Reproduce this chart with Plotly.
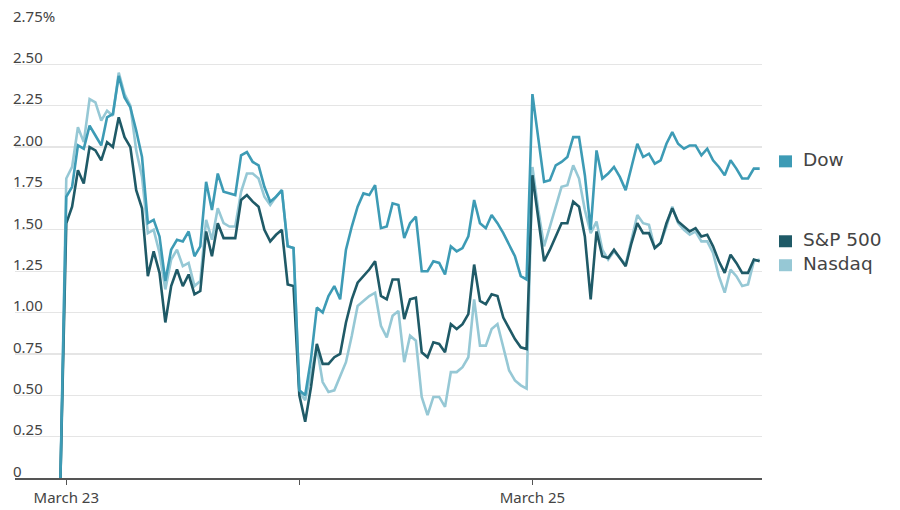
import plotly.graph_objects as go

# ---- data: intraday readings (percent), one list per day ----
day_labels = ["March 23", "March 24", "March 25"]
tick_labels = ["March 23", "", "March 25"]
bars_per_day = 40

# March 23 includes the opening 0 reading at bar -1
dow_d1 = [0, 1.70, 1.76, 2.01, 1.99, 2.13, 2.07, 2.01, 2.18, 2.20, 2.43, 2.30, 2.24, 2.10, 1.94,
          1.54, 1.56, 1.46, 1.19, 1.38, 1.44, 1.43, 1.49, 1.34, 1.40, 1.79, 1.62, 1.84, 1.73,
          1.72, 1.71, 1.95, 1.97, 1.91, 1.89, 1.76, 1.67, 1.70, 1.74, 1.40, 1.39]
dow_d2 = [0.53, 0.50, 0.72, 1.03, 1.00, 1.10, 1.16, 1.08, 1.38, 1.52, 1.64, 1.72, 1.71, 1.77,
          1.51, 1.52, 1.66, 1.65, 1.45, 1.54, 1.58, 1.25, 1.25, 1.31, 1.30, 1.23, 1.40, 1.37,
          1.39, 1.46, 1.68, 1.54, 1.51, 1.59, 1.54, 1.48, 1.41, 1.34, 1.22, 1.20]
dow_d3 = [2.32, 2.05, 1.79, 1.80, 1.89, 1.91, 1.94, 2.06, 2.06, 1.83, 1.50, 1.98, 1.81, 1.84,
          1.88, 1.82, 1.74, 1.88, 2.02, 1.94, 1.96, 1.90, 1.92, 2.02, 2.09, 2.02, 1.99, 2.01,
          2.01, 1.95, 1.99, 1.92, 1.88, 1.83, 1.92, 1.87, 1.81, 1.81, 1.87, 1.87]

sp_d1 = [0, 1.54, 1.64, 1.86, 1.78, 2.00, 1.98, 1.92, 2.03, 2.00, 2.18, 2.06, 2.00, 1.74, 1.63,
         1.22, 1.37, 1.24, 0.94, 1.16, 1.26, 1.16, 1.23, 1.11, 1.13, 1.49, 1.34, 1.54, 1.45,
         1.45, 1.45, 1.68, 1.71, 1.67, 1.64, 1.50, 1.43, 1.47, 1.50, 1.17, 1.16]
sp_d2 = [0.50, 0.34, 0.55, 0.81, 0.69, 0.69, 0.73, 0.75, 0.94, 1.08, 1.18, 1.22, 1.26, 1.31,
         1.10, 1.08, 1.20, 1.20, 0.96, 1.08, 1.09, 0.76, 0.73, 0.82, 0.81, 0.76, 0.93, 0.90,
         0.93, 0.99, 1.29, 1.07, 1.05, 1.11, 1.10, 0.97, 0.90, 0.84, 0.79, 0.78]
sp_d3 = [1.83, 1.57, 1.31, 1.38, 1.46, 1.54, 1.54, 1.67, 1.64, 1.46, 1.08, 1.49, 1.34, 1.33,
         1.38, 1.33, 1.28, 1.42, 1.54, 1.48, 1.48, 1.39, 1.42, 1.54, 1.63, 1.55, 1.52, 1.49,
         1.51, 1.46, 1.47, 1.40, 1.31, 1.24, 1.35, 1.30, 1.24, 1.24, 1.32, 1.31]

nq_d1 = [0, 1.81, 1.88, 2.12, 2.03, 2.29, 2.27, 2.16, 2.22, 2.19, 2.45, 2.32, 2.25, 1.98, 1.82,
         1.48, 1.50, 1.36, 1.14, 1.32, 1.38, 1.28, 1.30, 1.16, 1.19, 1.56, 1.44, 1.63, 1.54,
         1.52, 1.52, 1.73, 1.84, 1.84, 1.81, 1.70, 1.65, 1.70, 1.74, 1.40, 1.39]
nq_d2 = [0.52, 0.47, 0.64, 0.79, 0.58, 0.52, 0.53, 0.61, 0.70, 0.86, 1.04, 1.07, 1.10, 1.12,
         0.92, 0.85, 0.98, 1.01, 0.70, 0.86, 0.83, 0.49, 0.38, 0.49, 0.49, 0.43, 0.64, 0.64,
         0.67, 0.73, 1.08, 0.80, 0.80, 0.90, 0.93, 0.79, 0.65, 0.59, 0.56, 0.54]
nq_d3 = [1.88, 1.62, 1.40, 1.52, 1.64, 1.76, 1.77, 1.89, 1.81, 1.62, 1.48, 1.55, 1.38, 1.32,
         1.37, 1.33, 1.29, 1.44, 1.59, 1.54, 1.53, 1.39, 1.42, 1.52, 1.64, 1.54, 1.50, 1.47,
         1.49, 1.43, 1.43, 1.36, 1.22, 1.12, 1.26, 1.22, 1.16, 1.17, 1.31, 1.32]

y_ticks = [0, 0.25, 0.5, 0.75, 1.0, 1.25, 1.5, 1.75, 2.0, 2.25, 2.5, 2.75]
y_tick_text = ["0", "0.25", "0.50", "0.75", "1.00", "1.25", "1.50", "1.75", "2.00",
               "2.25", "2.50", "2.75%"]

legend_names = ["Dow", "S&P 500", "Nasdaq"]

# ---- x positions from day index + bar number ----
def day_x(day, n_values, first_bar):
    return [day + (first_bar + k) / bars_per_day for k in range(n_values)]

x_all = day_x(0, len(dow_d1), -1) + day_x(1, len(dow_d2), 0) + day_x(2, len(dow_d3), 0)
series = {
    "Dow": dow_d1 + dow_d2 + dow_d3,
    "S&P 500": sp_d1 + sp_d2 + sp_d3,
    "Nasdaq": nq_d1 + nq_d2 + nq_d3,
}
colors = {"Dow": "#3d9bb5", "S&P 500": "#1f5a67", "Nasdaq": "#96c8d5"}

# ---- geometry (page body margin removed via post_script) ----
W, H = 900, 510
ML, MR, MT, MB = 15, 138, 23, 31.5
PW, PH = W - ML - MR, H - MT - MB

def px_to_paper_x(px):
    return (px - ML) / PW

def py_to_paper_y(py):
    return (H - MB - py) / PH

fig = go.Figure()
for name in ["Nasdaq", "S&P 500", "Dow"]:
    fig.add_trace(go.Scatter(x=x_all, y=series[name], mode="lines", name=name,
                             line=dict(color=colors[name], width=2.6),
                             showlegend=False, hoverinfo="skip"))

# legend: square swatch + label, placed by hand
legend_centers = {"Dow": 161, "S&P 500": 241, "Nasdaq": 265}
shapes, annotations = [], []
for name in legend_names:
    cy = legend_centers[name]
    shapes.append(dict(type="rect", xref="paper", yref="paper",
                       x0=px_to_paper_x(779), x1=px_to_paper_x(792),
                       y0=py_to_paper_y(cy + 6.5), y1=py_to_paper_y(cy - 5.5),
                       fillcolor=colors[name], line=dict(width=0)))
    annotations.append(dict(xref="paper", yref="paper", x=px_to_paper_x(802),
                            y=py_to_paper_y(cy - 1), xanchor="left", yanchor="middle",
                            text=name, showarrow=False, borderpad=0,
                            font=dict(family="DejaVu Sans, Noto Sans, sans-serif",
                                      size=18.5, color="#444444")))

font_family = "Noto Sans, Open Sans, sans-serif"
fig.update_layout(
    width=W, height=H,
    margin=dict(l=ML, r=MR, t=MT, b=MB, pad=0, autoexpand=False),
    paper_bgcolor="white", plot_bgcolor="white",
    font=dict(family=font_family, color="#444444"),
    showlegend=False,
    shapes=shapes, annotations=annotations,
    xaxis=dict(range=[-0.22, 2.985], tickvals=[0, 1, 2], ticktext=tick_labels,
               automargin=False,
               showgrid=False, zeroline=False, showline=True, linecolor="#555555",
               linewidth=1.5, ticks="outside", ticklen=5, tickcolor="#555555",
               tickwidth=1.5, tickfont=dict(size=15, color="#444444")),
    yaxis=dict(range=[0, 2.75], tickvals=y_ticks, ticktext=y_tick_text,
               automargin=False,
               showgrid=True, gridcolor="#e5e5e5", gridwidth=1.2, zeroline=False,
               showline=False, ticks="", ticklabelposition="inside top",
               ticklabeloverflow="allow", ticklabelstandoff=-5, ticklabelshift=4,
               tickfont=dict(size=15, color="#444444")),
)

fig.write_html("out.html",
               config={"displayModeBar": False, "staticPlot": True},
               post_script="document.body.style.margin='0';"
                           "document.documentElement.style.overflow='hidden';")
